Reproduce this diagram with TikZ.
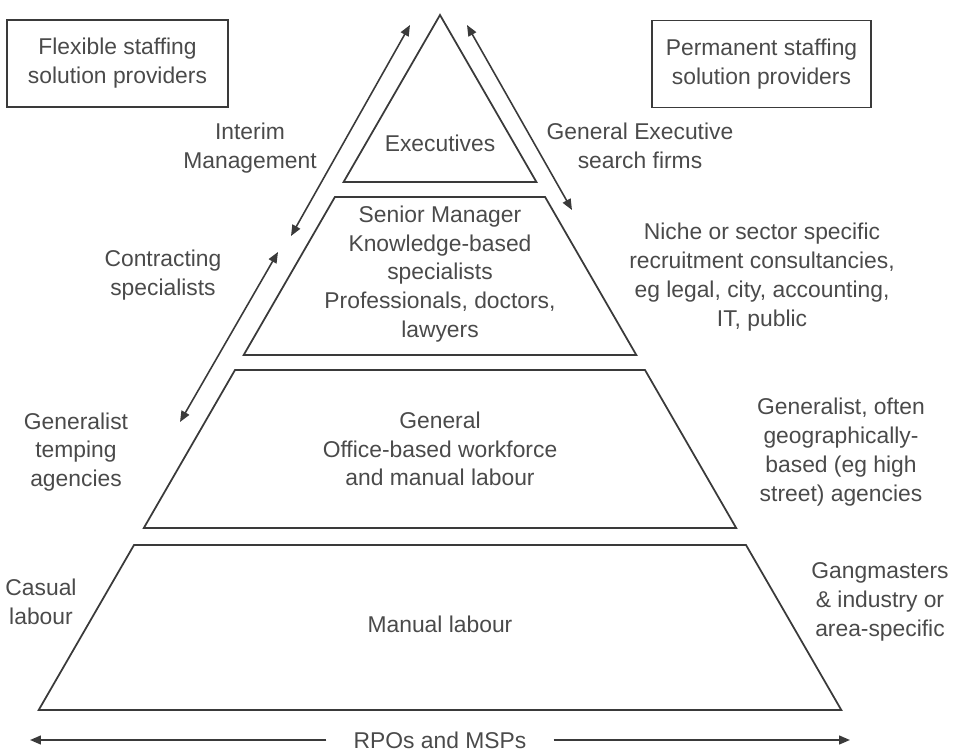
\documentclass[tikz,border=0pt]{standalone}
\usepackage{fontspec}
\setmainfont{Liberation Sans}
\usetikzlibrary{arrows.meta}
\definecolor{inkline}{HTML}{3A3A3A}
\definecolor{inktext}{HTML}{4A4A4A}
\begin{document}
\begin{tikzpicture}[x=0.2mm,y=-0.2mm,
  tier/.style={draw=inkline, line width=1pt, line join=miter},
  lbl/.style={text=inktext, font=\fontsize{13}{16.4}\selectfont, align=center, inner sep=0pt},
  provbox/.style={lbl, draw=inkline, line width=1pt, minimum height=17.4mm},
  tip/.tip={Triangle[length=6.2pt,width=5pt]},
  twoway/.style={draw=inkline, line width=0.9pt, tip-tip},
  oneway/.style={draw=inkline, line width=1pt, -tip}
]
\useasboundingbox (0,0) rectangle (955,753);

% pyramid tiers (one equilateral outline, cut into four bands)
\draw[tier] (440,15) -- (536.4,182) -- (343.6,182) -- cycle;
\draw[tier] (334.9,197) -- (545.1,197) -- (636.3,355) -- (243.7,355) -- cycle;
\draw[tier] (235,370) -- (645,370) -- (736.2,528) -- (143.8,528) -- cycle;
\draw[tier] (134,545) -- (746,545) -- (841.3,710) -- (38.7,710) -- cycle;

% tier texts
\node[lbl] (exec) at (440,143) {Executives};
\node[lbl] (senior) at (440,274) {Senior Manager\\Knowledge-based\\specialists\\Professionals, doctors,\\lawyers};
\node[lbl] (general) at (440,449) {General\\Office-based workforce\\and manual labour};
\node[lbl] (manual) at (440,624) {Manual labour};

% provider headings
\node[provbox, minimum width=44.2mm] (flex) at (117.5,63.5) {Flexible staffing\\solution providers};
\node[provbox, minimum width=43.8mm] (perm) at (761.5,64) {Permanent staffing\\solution providers};

% left-hand labels
\node[lbl] (interim) at (250,148) {Interim\\Management};
\node[lbl] (contract) at (163,275) {Contracting\\specialists};
\node[lbl] (temping) at (76,452) {Generalist\\temping\\agencies};
\node[lbl] (casual) at (41,602) {Casual\\labour};

% right-hand labels
\node[lbl] (search) at (640,146) {General Executive\\search firms};
\node[lbl] (niche) at (762,277) {Niche or sector specific\\recruitment consultancies,\\eg legal, city, accounting,\\IT, public};
\node[lbl] (genright) at (841,452) {Generalist, often\\geographically-\\based (eg high\\street) agencies};
\node[lbl] (gang) at (880,602) {Gangmasters\\\& industry or\\area-specific};

% arrows along the flanks
\coordinate (la1) at (410,25);
\coordinate (la2) at (291,236);
\coordinate (lb1) at (278,252);
\coordinate (lb2) at (180,422);
\coordinate (ra1) at (467,25);
\coordinate (ra2) at (572,210);
\draw[twoway] (la2) -- (la1);
\draw[twoway] (lb2) -- (lb1);
\draw[twoway] (ra1) -- (ra2);

% span along the base
\node[lbl, inner xsep=15.3pt] (rpo) at (440,740) {RPOs and MSPs};
\coordinate (bl) at (30,740);
\coordinate (br) at (850,740);
\draw[oneway] (rpo.west) -- (bl);
\draw[oneway] (rpo.east) -- (br);
\end{tikzpicture}
\end{document}
